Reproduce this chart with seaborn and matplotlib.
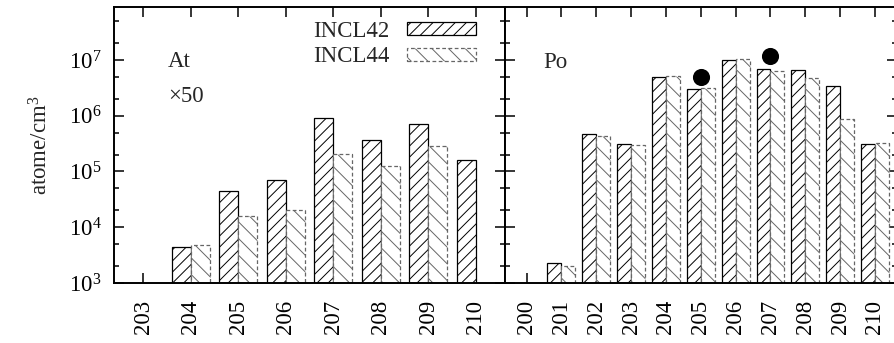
import numpy as np
import pandas as pd
import matplotlib
matplotlib.use("Agg")
import matplotlib.pyplot as plt
import matplotlib.patches as mpatches
from matplotlib.ticker import LogLocator, NullFormatter, LogFormatterMathtext
import seaborn as sns

# ---------------- data ----------------
at_isotopes = ["203", "204", "205", "206", "207", "208", "209", "210"]
at_incl42 = [np.nan, 4.5e3, 4.5e4, 7.0e4, 9.0e5, 3.7e5, 7.2e5, 1.6e5]
at_incl44 = [np.nan, 4.8e3, 1.57e4, 2.0e4, 2.1e5, 1.26e5, 2.9e5, np.nan]

po_isotopes = ["200", "201", "202", "203", "204", "205", "206", "207", "208", "209", "210"]
po_incl42 = [np.nan, 2.25e3, 4.65e5, 3.1e5, 5.0e6, 3.0e6, 1.0e7, 7.0e6, 6.5e6, 3.45e6, 3.05e5]
po_incl44 = [np.nan, 2.05e3, 4.4e5, 3.0e5, 5.2e6, 3.1e6, 1.03e7, 6.4e6, 4.75e6, 8.9e5, 3.2e5]

po_exp_isotopes = ["205", "207"]
po_exp_values = [4.9e6, 1.19e7]

models = ["INCL42", "INCL44"]

# ---------------- style ----------------
sns.set_style("white")
plt.rcParams["font.family"] = ["Liberation Serif", "DejaVu Serif"]
plt.rcParams["mathtext.fontset"] = "custom"
plt.rcParams["mathtext.rm"] = "Liberation Serif"
plt.rcParams["mathtext.it"] = "Liberation Serif:italic"
plt.rcParams["hatch.linewidth"] = 0.7
FS = 16.5

HATCH42 = "///"
HATCH44 = "\\\\"
EDGE44 = "#666666"
DASH44 = (0, (3, 2))

def make_df(isotopes, v42, v44):
    rows = []
    for iso, a, b in zip(isotopes, v42, v44):
        rows.append({"A": iso, "model": "INCL42", "value": a})
        rows.append({"A": iso, "model": "INCL44", "value": b})
    return pd.DataFrame(rows).dropna()

def style_bars(ax):
    c42, c44 = ax.containers[0], ax.containers[1]
    for p in c42:
        p.set_facecolor("white")
        p.set_edgecolor("black")
        p.set_hatch(HATCH42)
        p.set_linewidth(0.9)
    for p in c44:
        p.set_facecolor("white")
        p.set_edgecolor(EDGE44)
        p.set_hatch(HATCH44)
        p.set_linestyle(DASH44)
        p.set_linewidth(0.9)

def style_axis(ax, isotopes):
    ax.set_yscale("log")
    ax.set_ylim(1e3, 9.1e7)
    n = len(isotopes)
    ax.set_xlim(-0.617, n - 1 + 0.617)
    ax.yaxis.set_major_locator(LogLocator(base=10, numticks=10))
    ax.yaxis.set_major_formatter(LogFormatterMathtext())
    ax.yaxis.set_minor_locator(LogLocator(base=10, subs=(2.0, 5.0), numticks=10))
    ax.yaxis.set_minor_formatter(NullFormatter())
    ax.tick_params(axis="both", which="both", direction="in", top=True, right=True,
                   bottom=True, left=True, width=1.1, colors="black")
    ax.tick_params(axis="both", which="major", length=7)
    ax.tick_params(axis="both", which="minor", length=3.5)
    ax.tick_params(axis="x", which="minor", bottom=False, top=False)
    ax.tick_params(axis="x", labelrotation=90, labelsize=FS, pad=12)
    ax.tick_params(axis="y", labelsize=FS, pad=9)
    for s in ax.spines.values():
        s.set_linewidth(1.4)
        s.set_color("black")
        s.set_visible(True)
    ax.set_xlabel("")
    ax.set_ylabel("")

fig = plt.figure(figsize=(8.94, 3.43), dpi=100)
axL = fig.add_axes([114 / 894, 60 / 343, 391 / 894, 276.5 / 343])
axR = fig.add_axes([505 / 894, 60 / 343, 391.5 / 894, 276.5 / 343])

dfL = make_df(at_isotopes, at_incl42, at_incl44)
dfR = make_df(po_isotopes, po_incl42, po_incl44)

sns.barplot(data=dfL, x="A", y="value", hue="model", order=at_isotopes,
            hue_order=models, errorbar=None, width=0.8, legend=False, ax=axL)
sns.barplot(data=dfR, x="A", y="value", hue="model", order=po_isotopes,
            hue_order=models, errorbar=None, width=0.8, legend=False, ax=axR)

style_bars(axL)
style_bars(axR)
style_axis(axL, at_isotopes)
style_axis(axR, po_isotopes)
axR.tick_params(axis="y", labelleft=False)

# experimental points
exp_pos = [po_isotopes.index(a) for a in po_exp_isotopes]
axR.plot(exp_pos, po_exp_values, linestyle="none", marker="o",
         markersize=11.3, color="black", zorder=5)
axR.set_xlim(-0.617, len(po_isotopes) - 1 + 0.617)
axR.set_ylim(1e3, 9.1e7)

# labels
axL.set_ylabel("atome/cm$^3$", fontsize=FS)
axL.yaxis.set_label_coords(-0.158, 0.5)
axL.text(0.138, 0.78, "At", transform=axL.transAxes, fontsize=FS, va="baseline")
axL.text(0.138, 0.655, "\u00d750", transform=axL.transAxes, fontsize=FS, va="baseline")
axR.text(0.097, 0.777, "Po", transform=axR.transAxes, fontsize=FS, va="baseline")

# legend
h42 = mpatches.Patch(facecolor="white", edgecolor="black", hatch=HATCH42, linewidth=0.9)
h44 = mpatches.Patch(facecolor="white", edgecolor=EDGE44, hatch=HATCH44,
                     linestyle=DASH44, linewidth=0.9)
axL.legend([h42, h44], models, loc="upper right", bbox_to_anchor=(0.925, 0.948),
           frameon=False, fontsize=FS, markerfirst=False, handlelength=3.0,
           handleheight=0.5, handletextpad=0.75, labelspacing=0.2,
           borderpad=0, borderaxespad=0)

fig.savefig("out.png", dpi=100)
